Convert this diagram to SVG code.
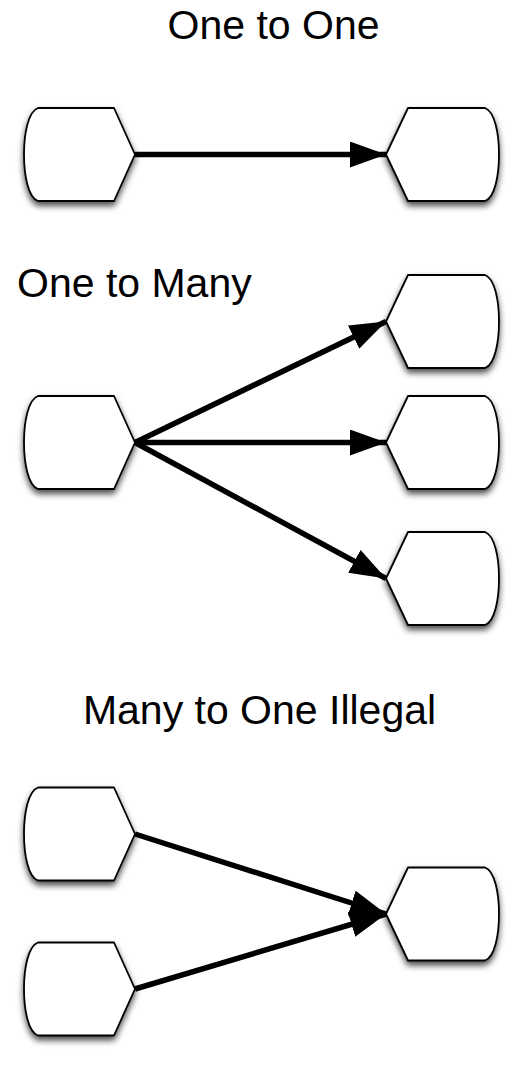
<svg xmlns="http://www.w3.org/2000/svg" width="520" height="1066" viewBox="0 0 520 1066">
<defs>
<filter id="sh" x="-20%" y="-20%" width="140%" height="150%">
<feDropShadow dx="0" dy="4" stdDeviation="3" flood-color="#000" flood-opacity="0.7"/>
</filter>
<marker id="ah" markerUnits="userSpaceOnUse" markerWidth="36" markerHeight="26" refX="36" refY="13" orient="auto">
<path d="M0,0 L36,13 L0,26 Z" fill="#000"/>
</marker>
<path id="L" d="M38,-46.5 L114,-46.5 L135,0 L114,46.5 L38,46.5 C28,43 24,20 24,0 C24,-20 28,-43 38,-46.5 Z"/>
<path id="R" d="M408,-46.5 L485,-46.5 C495,-43 499,-20 499,0 C499,20 495,43 485,46.5 L408,46.5 L386,0 Z"/>
</defs>
<style>
.t{font-family:"Liberation Sans",Arial,sans-serif;font-size:41px;fill:#000}
.n use{fill:#fff;stroke:#000;stroke-width:1.8;stroke-linejoin:round;filter:url(#sh)}
.c line{stroke:#000;stroke-width:5.5;marker-end:url(#ah)}
</style>
<rect width="520" height="1066" fill="#fff"/>
<text class="t" x="273.5" y="39" text-anchor="middle">One to One</text>
<text class="t" x="17" y="297">One to Many</text>
<text class="t" x="259.5" y="724" text-anchor="middle">Many to One Illegal</text>
<g class="n">
<g id="n1"><use href="#L" y="154.5"/></g>
<g id="n2"><use href="#R" y="154.5"/></g>
<g id="n3"><use href="#L" y="442.5"/></g>
<g id="n4"><use href="#R" y="321.5"/></g>
<g id="n5"><use href="#R" y="442.5"/></g>
<g id="n6"><use href="#R" y="578.5"/></g>
<g id="n7"><use href="#L" y="834"/></g>
<g id="n8"><use href="#L" y="989"/></g>
<g id="n9"><use href="#R" y="914"/></g>
</g>
<g class="c" id="connectors">
<line x1="135" y1="154.5" x2="386" y2="154.5"/>
<line x1="135" y1="442.5" x2="386" y2="321.5"/>
<line x1="135" y1="442.5" x2="386" y2="442.5"/>
<line x1="135" y1="442.5" x2="386" y2="578.5"/>
<line x1="135" y1="834" x2="386" y2="914"/>
<line x1="135" y1="989" x2="386" y2="914"/>
</g>
</svg>
